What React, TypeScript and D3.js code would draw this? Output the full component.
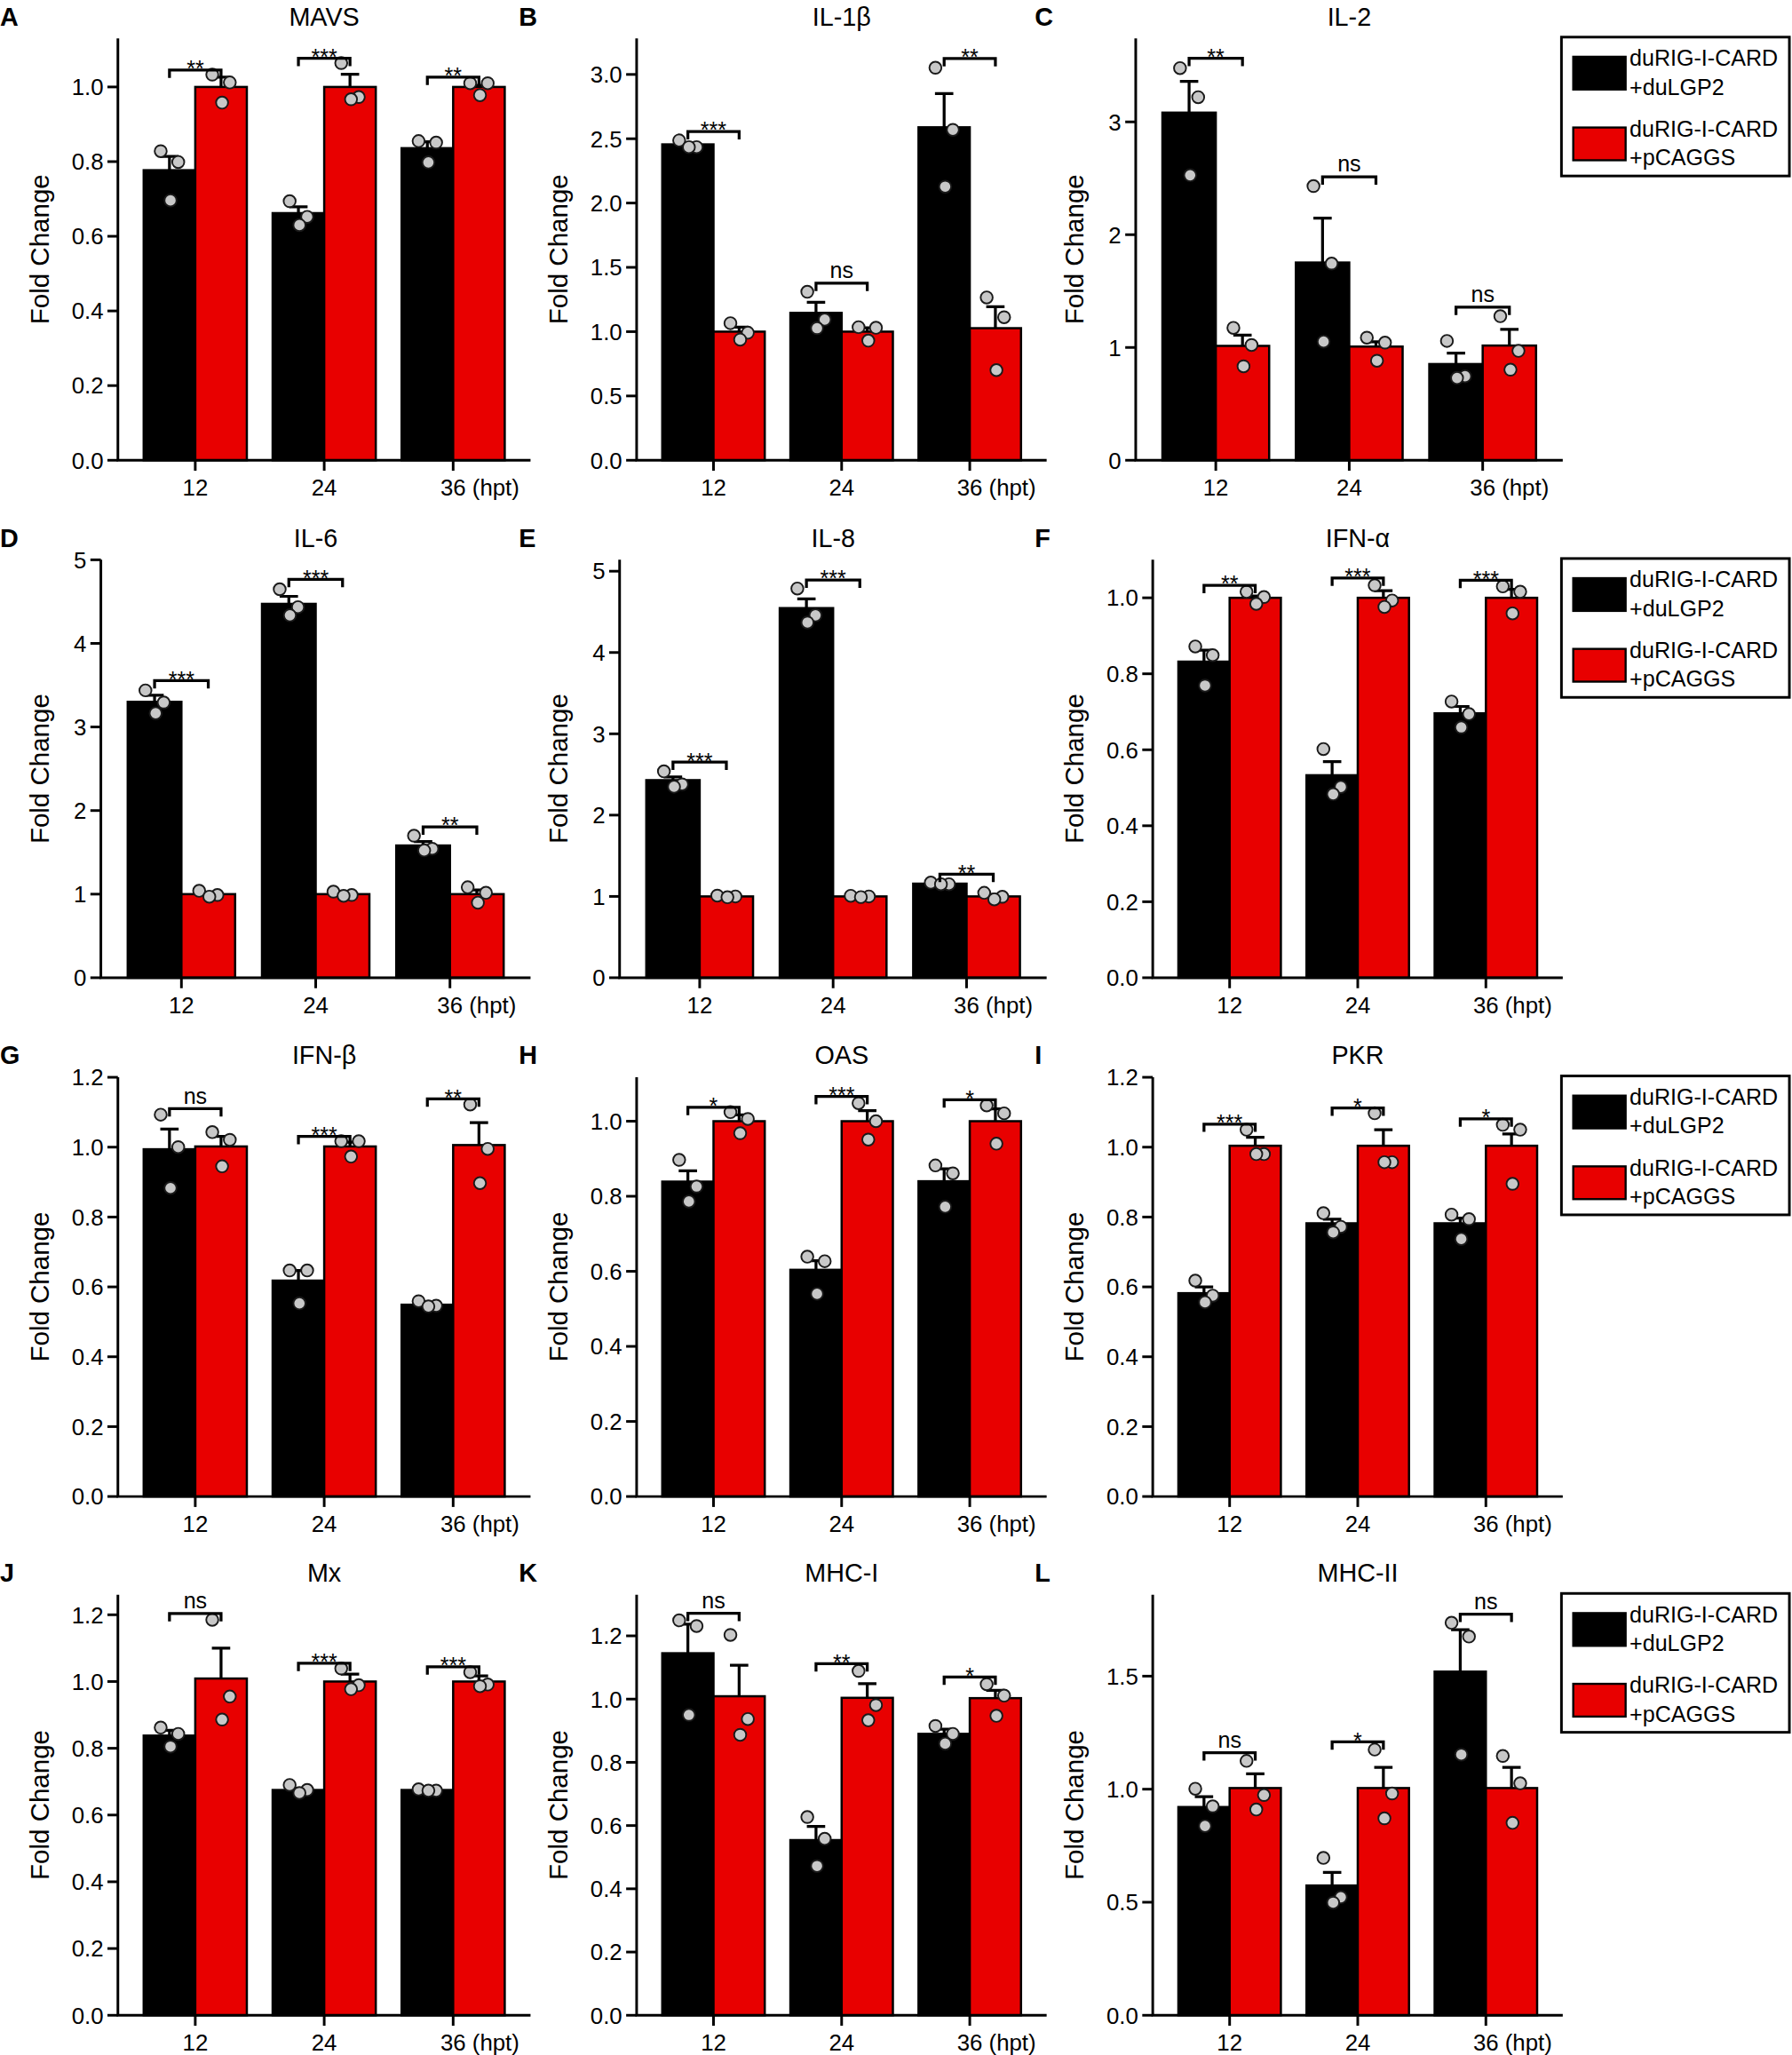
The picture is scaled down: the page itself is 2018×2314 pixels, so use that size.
import * as d3 from "d3";

// panel names, in reading order (A..L)
const LETTERS = ["A", "B", "C", "D", "E", "F", "G", "H", "I", "J", "K", "L"];
const GENES = ["MAVS", "IL-1β", "IL-2", "IL-6", "IL-8", "IFN-α", "IFN-β", "OAS", "PKR", "Mx", "MHC-I", "MHC-II"];
const TIMES = ["12", "24", "36"];
const TIME_UNIT = " (hpt)";
const GROUPS = ["duLGP2", "pCAGGS"];
const GROUP_COLORS = ["#000000", "#e80000"];
const LEGEND_LINES = [
  ["duRIG-I-CARD", "+duLGP2"],
  ["duRIG-I-CARD", "+pCAGGS"],
];

// y axes
const Y_MAX = [1.13, 3.28, 3.74, 5, 5.14, 1.1, 1.2, 1.117, 1.2, 1.26, 1.33, 1.86];
const Y_STEP = [0.2, 0.5, 1, 1, 1, 0.2, 0.2, 0.2, 0.2, 0.2, 0.2, 0.5];
const Y_LAST = [1.0, 3.0, 3, 5, 5, 1.0, 1.2, 1.0, 1.2, 1.2, 1.2, 1.5];
const Y_DECIMALS = [1, 1, 0, 0, 0, 1, 1, 1, 1, 1, 1, 1];

// means and SEM (upper whisker) per gene, per time point
const MEAN_LGP2 = [
  [0.777, 0.662, 0.836], [2.456, 1.146, 2.589], [3.082, 1.753, 0.853],
  [3.301, 4.473, 1.582], [2.43, 4.546, 1.157], [0.832, 0.533, 0.696],
  [0.994, 0.618, 0.549], [0.839, 0.604, 0.84], [0.582, 0.782, 0.782],
  [0.838, 0.675, 0.675], [1.145, 0.554, 0.89], [0.921, 0.574, 1.52],
];
const SEM_LGP2 = [
  [0.037, 0.017, 0.017], [0.014, 0.082, 0.262], [0.278, 0.394, 0.096],
  [0.078, 0.09, 0.047], [0.04, 0.113, 0.013], [0.03, 0.036, 0.018],
  [0.058, 0.029, 0.004], [0.029, 0.024, 0.033], [0.018, 0.012, 0.015],
  [0.016, 0.005, 0.002], [0.092, 0.043, 0.015], [0.046, 0.058, 0.185],
];
const MEAN_PCAGGS = [
  [1.0, 1.0, 1.0], [1.0, 1.0, 1.027], [1.014, 1.008, 1.017],
  [1.0, 1.0, 1.0], [1.0, 1.0, 1.0], [1.0, 1.0, 1.0],
  [1.002, 1.002, 1.006], [1.0, 1.0, 1.0], [1.004, 1.004, 1.004],
  [1.009, 1.0, 1.0], [1.009, 1.004, 1.003], [1.005, 1.005, 1.005],
];
const SEM_PCAGGS = [
  [0.026, 0.034, 0.004], [0.035, 0.03, 0.167], [0.096, 0.042, 0.143],
  [0.02, 0.01, 0.05], [0.005, 0.005, 0.025], [0.005, 0.019, 0.022],
  [0.029, 0.012, 0.064], [0.017, 0.028, 0.033], [0.024, 0.046, 0.034],
  [0.091, 0.022, 0.017], [0.098, 0.045, 0.025], [0.063, 0.091, 0.091],
];

// individual replicates
const PTS_LGP2 = [
  [[0.828, 0.799, 0.696], [0.694, 0.652, 0.63], [0.855, 0.851, 0.798]],
  [[2.487, 2.435, 2.435], [1.31, 1.094, 1.027], [3.052, 2.569, 2.127]],
  [[3.477, 3.219, 2.527], [2.431, 1.744, 1.052], [1.058, 0.745, 0.73]],
  [[3.438, 3.293, 3.164], [4.648, 4.434, 4.336], [1.699, 1.543, 1.523]],
  [[2.538, 2.378, 2.349], [4.787, 4.458, 4.369], [1.17, 1.15, 1.15]],
  [[0.872, 0.849, 0.769], [0.602, 0.502, 0.483], [0.727, 0.694, 0.659]],
  [[1.093, 1.0, 0.883], [0.647, 0.647, 0.553], [0.559, 0.546, 0.544]],
  [[0.897, 0.826, 0.786], [0.639, 0.627, 0.54], [0.882, 0.861, 0.772]],
  [[0.618, 0.575, 0.556], [0.811, 0.772, 0.756], [0.807, 0.794, 0.737]],
  [[0.862, 0.843, 0.805], [0.69, 0.675, 0.666], [0.677, 0.673, 0.673]],
  [[1.249, 1.231, 0.95], [0.627, 0.558, 0.472], [0.915, 0.89, 0.859]],
  [[1.002, 0.924, 0.837], [0.696, 0.522, 0.498], [1.736, 1.675, 1.153]],
];
const PTS_PCAGGS = [
  [[1.033, 1.012, 0.958], [1.064, 0.973, 0.967], [1.01, 1.01, 0.978]],
  [[1.066, 0.992, 0.938], [1.035, 1.03, 0.93], [1.266, 1.112, 0.701]],
  [[1.174, 1.022, 0.833], [1.087, 1.043, 0.882], [1.277, 0.97, 0.803]],
  [[1.04, 0.99, 0.97], [1.03, 0.99, 0.98], [1.082, 1.016, 0.898]],
  [[1.01, 1.0, 0.99], [1.008, 1.0, 0.992], [1.044, 0.996, 0.964]],
  [[1.016, 1.002, 0.984], [1.033, 0.993, 0.976], [1.03, 1.016, 0.959]],
  [[1.043, 1.021, 0.945], [1.017, 1.017, 0.973], [1.122, 0.995, 0.897]],
  [[1.024, 1.006, 0.968], [1.048, 1.0, 0.951], [1.042, 1.021, 0.94]],
  [[1.05, 0.98, 0.98], [1.097, 0.957, 0.957], [1.064, 1.05, 0.895]],
  [[1.185, 0.955, 0.886], [1.039, 0.989, 0.977], [1.028, 0.991, 0.986]],
  [[1.203, 0.937, 0.887], [1.089, 0.981, 0.933], [1.047, 1.011, 0.947]],
  [[1.125, 0.974, 0.91], [1.175, 0.981, 0.871], [1.147, 1.026, 0.851]],
];

// significance brackets
const SIG_LABEL = [
  ["**", "***", "**"], ["***", "ns", "**"], ["**", "ns", "ns"],
  ["***", "***", "**"], ["***", "***", "**"], ["**", "***", "***"],
  ["ns", "***", "**"], ["*", "***", "*"], ["***", "*", "*"],
  ["ns", "***", "***"], ["ns", "**", "*"], ["ns", "*", "ns"],
];
const SIG_Y = [
  [1.045, 1.077, 1.026], [2.556, 1.377, 3.124], [3.564, 2.512, 1.358],
  [3.555, 4.766, 1.805], [2.651, 4.892, 1.273], [1.033, 1.052, 1.046],
  [1.11, 1.031, 1.138], [1.037, 1.066, 1.057], [1.066, 1.112, 1.081],
  [1.204, 1.055, 1.044], [1.271, 1.112, 1.07], [1.161, 1.209, 1.774],
];

const MEANS = [MEAN_LGP2, MEAN_PCAGGS];
const SEMS = [SEM_LGP2, SEM_PCAGGS];
const POINTS = [PTS_LGP2, PTS_PCAGGS];

// layout, in the 1368 x 1568 view box
const VIEW_W = 1368;
const VIEW_H = 1568;
const COL_LEFT = [0, 396, 790];
const COL_RIGHT = [405, 799, 1193];
const ROW_TOP = [29, 427, 822, 1217];
const ROW_ZERO = [351, 746, 1142, 1538];
const JITTER = [-0.17, 0.17, 0.02];

const FONT = "'Liberation Sans', Arial, Helvetica, sans-serif";
const TICK_FS = 17.5;

function Panel({ i }: { i: number }) {
  const row = Math.floor(i / 3);
  const col = i % 3;
  const top = ROW_TOP[row];
  const zero = ROW_ZERO[row];
  const axisX = COL_LEFT[col] + (Y_DECIMALS[i] ? 90 : 77);
  const right = COL_RIGHT[col];

  const x = d3
    .scaleBand<string>()
    .domain(TIMES)
    .range([axisX, right])
    .paddingInner(0.2)
    .paddingOuter(0.2);
  const sub = d3.scaleBand<string>().domain(GROUPS).range([0, x.bandwidth()]);
  const y = d3.scaleLinear().domain([0, Y_MAX[i]]).range([zero, top]);
  const ticks = d3.range(0, Y_LAST[i] + Y_STEP[i] / 2, Y_STEP[i]);
  const fmt = d3.format(Y_DECIMALS[i] ? ".1f" : "d");
  const bw = sub.bandwidth();

  return (
    <g>
      <text x={COL_LEFT[col]} y={top - 10} fontSize={19.5} fontWeight="bold">
        {LETTERS[i]}
      </text>
      <text x={(axisX + right) / 2} y={top - 10} fontSize={19.5} textAnchor="middle">
        {GENES[i]}
      </text>
      <text
        transform={`translate(${COL_LEFT[col] + 32},${(top + zero) / 2}) rotate(-90)`}
        fontSize={20}
        textAnchor="middle"
        dy="0.25em"
      >
        Fold Change
      </text>

      {/* bars */}
      {TIMES.map((t, j) =>
        GROUPS.map((g, k) => {
          const x0 = (x(t) ?? 0) + (sub(g) ?? 0);
          const m = MEANS[k][i][j];
          return (
            <rect
              key={`b${j}${k}`}
              x={x0}
              y={y(m)}
              width={bw}
              height={zero - y(m)}
              fill={GROUP_COLORS[k]}
              stroke="#000"
              strokeWidth={1.7}
            />
          );
        })
      )}

      {/* error bars (upper) */}
      {TIMES.map((t, j) =>
        GROUPS.map((g, k) => {
          const cx = (x(t) ?? 0) + (sub(g) ?? 0) + bw / 2;
          const m = MEANS[k][i][j];
          const e = m + SEMS[k][i][j];
          return (
            <path
              key={`e${j}${k}`}
              d={`M${cx},${y(m)}V${y(e)}M${cx - 7},${y(e)}H${cx + 7}`}
              stroke="#000"
              strokeWidth={2.2}
              fill="none"
            />
          );
        })
      )}

      {/* replicates */}
      {TIMES.map((t, j) =>
        GROUPS.map((g, k) =>
          POINTS[k][i][j].map((v, p) => (
            <circle
              key={`p${j}${k}${p}`}
              cx={(x(t) ?? 0) + (sub(g) ?? 0) + bw / 2 + JITTER[p] * bw}
              cy={y(v)}
              r={4.6}
              fill="#c8c8c8"
              stroke="#1a1a1a"
              strokeWidth={1.3}
            />
          ))
        )
      )}

      {/* significance brackets */}
      {TIMES.map((t, j) => {
        const x1 = (x(t) ?? 0) + bw / 2;
        const x2 = x1 + bw;
        const yb = y(SIG_Y[i][j]);
        const lab = SIG_LABEL[i][j];
        return (
          <g key={`s${j}`}>
            <path
              d={`M${x1},${yb + 6}V${yb}H${x2}V${yb + 6}`}
              stroke="#000"
              strokeWidth={2.2}
              fill="none"
            />
            <text
              x={(x1 + x2) / 2}
              y={lab === "ns" ? yb - 4 : yb + 5}
              fontSize={lab === "ns" ? 17 : 17}
              textAnchor="middle"
            >
              {lab}
            </text>
          </g>
        );
      })}

      {/* axes */}
      <path d={`M${axisX},${top}V${zero}H${right}`} stroke="#000" strokeWidth={2} fill="none" />
      {ticks.map((v) => (
        <g key={`yt${v}`}>
          <line x1={axisX - 8} x2={axisX} y1={y(v)} y2={y(v)} stroke="#000" strokeWidth={2} />
          <text x={axisX - 11} y={y(v)} dy="0.36em" fontSize={TICK_FS} textAnchor="end">
            {fmt(v)}
          </text>
        </g>
      ))}
      {TIMES.map((t, j) => {
        const cx = (x(t) ?? 0) + x.bandwidth() / 2;
        const last = j === TIMES.length - 1;
        return (
          <g key={`xt${t}`}>
            <line x1={cx} x2={cx} y1={zero} y2={zero + 8} stroke="#000" strokeWidth={2} />
            <text
              x={last ? cx - 0.556 * TICK_FS : cx}
              y={zero + 27}
              fontSize={TICK_FS}
              textAnchor={last ? "start" : "middle"}
            >
              {last ? t + TIME_UNIT : t}
            </text>
          </g>
        );
      })}

      {col === 2 && <Legend top={top} />}
    </g>
  );
}

function Legend({ top }: { top: number }) {
  const x0 = 1192;
  return (
    <g>
      <rect x={x0} y={top - 1} width={174} height={106} fill="#fff" stroke="#000" strokeWidth={2} />
      {LEGEND_LINES.map((lines, k) => {
        const sy = top + 14 + k * 54;
        return (
          <g key={k}>
            <rect x={x0 + 9} y={sy} width={40} height={25} fill={GROUP_COLORS[k]} stroke="#000" strokeWidth={1.6} />
            {lines.map((s, l) => (
              <text key={l} x={x0 + 52} y={sy + 7 + l * 22} fontSize={17}>
                {s}
              </text>
            ))}
          </g>
        );
      })}
    </g>
  );
}

export default function App() {
  return (
    <svg
      width={2018}
      height={2314}
      viewBox={`0 0 ${VIEW_W} ${VIEW_H}`}
      style={{ position: "absolute", left: 0, top: 0, background: "#fff" }}
      fontFamily={FONT}
    >
      <rect width={VIEW_W} height={VIEW_H} fill="#fff" />
      {GENES.map((_, i) => (
        <Panel key={i} i={i} />
      ))}
    </svg>
  );
}
